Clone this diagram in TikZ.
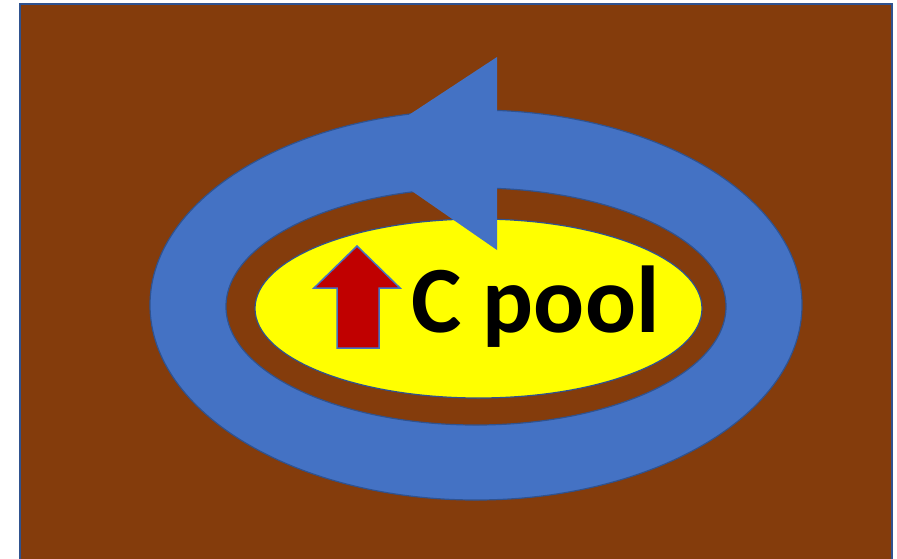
\documentclass[tikz,border=0pt]{standalone}
\usepackage{fontspec}
\setmainfont{Carlito}
\usetikzlibrary{shapes.geometric}
\definecolor{soil}{HTML}{843C0C}
\definecolor{flowblue}{HTML}{4472C4}
\definecolor{edgeblue}{HTML}{2F528F}
\definecolor{poolred}{HTML}{C00000}
\definecolor{poolyellow}{HTML}{FFFF00}

\begin{document}
\begin{tikzpicture}[
    x=1pt, y=-1pt,
    oval/.style={ellipse, draw=edgeblue, line width=1.2pt, inner sep=0pt},
    ring/.style={oval, fill=flowblue},
    gap/.style={oval, fill=soil},
    pool/.style={oval, fill=poolyellow},
    pooltext/.style={font=\fontsize{95}{95}\selectfont\bfseries, text=black, inner sep=0pt}
]
    \useasboundingbox (0,0) rectangle (897,558);

    % soil background
    \draw[fill=soil, draw=edgeblue, line width=1.5pt] (20,4) rectangle (892,570);

    % carbon cycle ring
    \node[ring, minimum width=652pt, minimum height=390pt] (outer) at (476,305) {};
    \node[gap, minimum width=500pt, minimum height=237pt] (inner) at (476,306.5) {};
    \node[pool, minimum width=447pt, minimum height=179pt] (cpool) at (478.5,308.5) {};

    % arrow head of the ring
    \fill[flowblue] (497,57) -- (497,250) -- (354,151) -- cycle;

    % increase arrow
    \draw[fill=poolred, draw=flowblue, line width=1.5pt, line join=miter]
        (357,246) -- (400,288) -- (379,288) -- (379,348) -- (337,348)
        -- (337,288) -- (314,288) -- cycle;

    \node[pooltext, anchor=base west] (ctext) at (411,332) {C pool};

\end{tikzpicture}
\end{document}
